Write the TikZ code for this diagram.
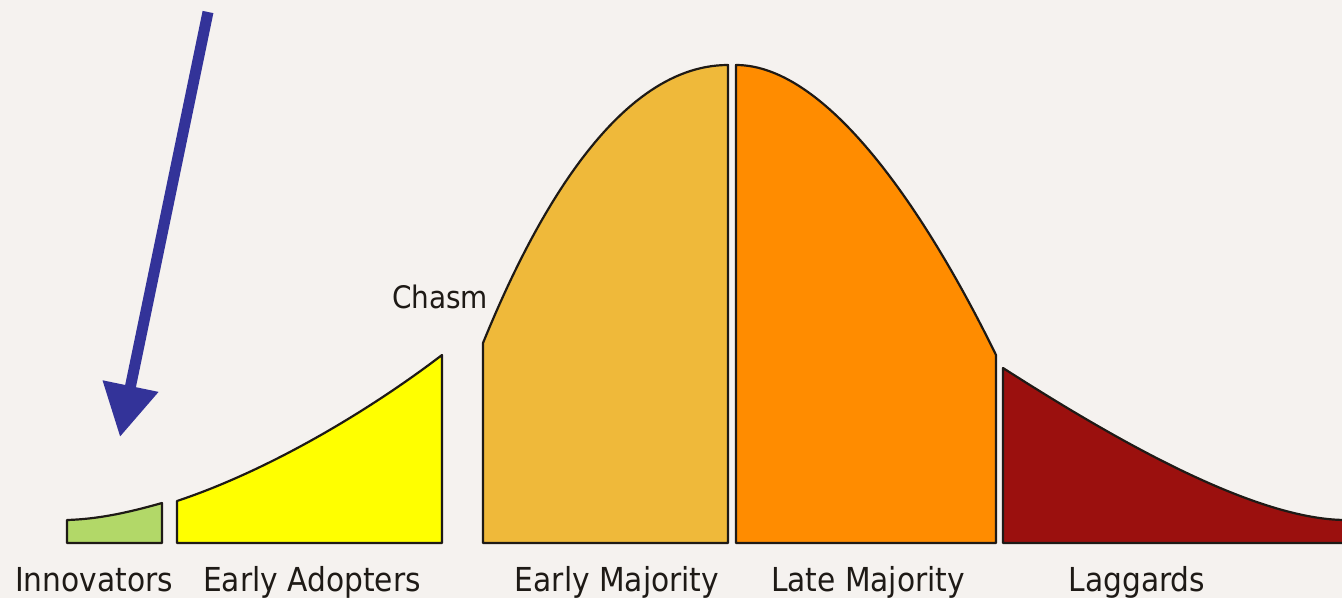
\documentclass[tikz,border=0pt]{standalone}
\usepackage{fontspec}
\setmainfont{DejaVu Sans Condensed}
\usetikzlibrary{arrows.meta}
\definecolor{bg}{RGB}{245,242,239}
\definecolor{innov}{RGB}{178,216,104}
\definecolor{early}{RGB}{255,255,0}
\definecolor{emaj}{RGB}{239,185,58}
\definecolor{lmaj}{RGB}{255,140,0}
\definecolor{lagg}{RGB}{155,16,14}
\definecolor{txt}{RGB}{30,26,22}
\definecolor{arrowc}{RGB}{51,51,153}
\definecolor{edge}{RGB}{30,26,22}
\begin{document}
\begin{tikzpicture}[x=1pt,y=-1pt,
  seg/.style={draw=edge, line width=2.2pt, line join=round},
  lbl/.style={font=\fontsize{33}{38}\selectfont, text=txt, anchor=base, inner sep=0pt},
  pointer/.style={draw=arrowc, line width=11pt, -{Triangle[length=52pt,width=54pt]}}]
\fill[bg] (0,0) rectangle (1342,598);
\useasboundingbox (0,0) rectangle (1342,598);
% Innovators
\path[seg, fill=innov] (67,543) -- (67,520) .. controls (100,519) and (130,512) .. (162,503) -- (162,543) -- cycle;
% Early Adopters
\path[seg, fill=early] (177,543) -- (177,501) .. controls (270,470) and (370,410) .. (442,355) -- (442,543) -- cycle;
% Early Majority
\path[seg, fill=emaj] (483,543) -- (483,343) .. controls (525,240) and (610,65) .. (728,65) -- (728,543) -- cycle;
% Late Majority
\path[seg, fill=lmaj] (736,543) -- (736,65) .. controls (830,65) and (930,220) .. (996,355) -- (996,543) -- cycle;
% Laggards
\path[seg, fill=lagg] (1003,543) -- (1003,368) .. controls (1100,430) and (1250,520) .. (1346,520) -- (1346,543) -- cycle;
% labels
\node[lbl] (innovators) at (94,591) {Innovators};
\node[lbl] (adopters) at (312,591) {Early Adopters};
\node[lbl] (earlymaj) at (617,591) {Early Majority};
\node[lbl] (latemaj) at (868,591) {Late Majority};
\node[lbl] (laggards) at (1137,591) {Laggards};
\node[lbl, font=\fontsize{31}{36}\selectfont] (chasm) at (440,308) {Chasm};
% arrow
\coordinate (atop) at (208,12);
\coordinate (atip) at (120,437);
\draw[pointer] (atop) -- (atip);
\end{tikzpicture}
\end{document}
